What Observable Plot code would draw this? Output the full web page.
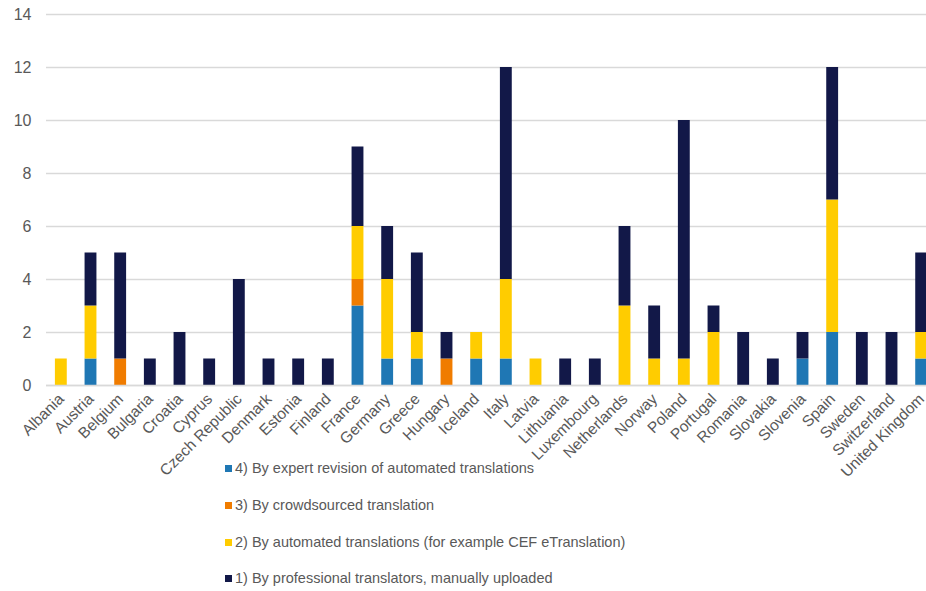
<!DOCTYPE html>
<html>
<head>
<meta charset="utf-8">
<script src="https://cdn.jsdelivr.net/npm/d3@7"></script>
<script src="https://cdn.jsdelivr.net/npm/@observablehq/plot@0.6"></script>
<style>
  html, body { margin: 0; padding: 0; background: white; }
  #wrap { position: relative; width: 926px; height: 591px; overflow: hidden; font-family: "Liberation Sans", Arial, sans-serif; }
  .leg { position: absolute; left: 225px; font-size: 14.5px; color: #595959; line-height: 18px; white-space: nowrap; }
  .leg span.sw { display: inline-block; width: 7px; height: 7px; margin-right: 3px; vertical-align: 1px; }
</style>
</head>
<body>
<div id="wrap"></div>
<script>
const countries = ["Albania","Austria","Belgium","Bulgaria","Croatia","Cyprus","Czech Republic","Denmark","Estonia","Finland","France","Germany","Greece","Hungary","Iceland","Italy","Latvia","Lithuania","Luxembourg","Netherlands","Norway","Poland","Portugal","Romania","Slovakia","Slovenia","Spain","Sweden","Switzerland","United Kingdom"];
const seriesNames = [
  "4) By expert revision of automated translations",
  "3) By crowdsourced translation",
  "2) By automated translations (for example CEF eTranslation)",
  "1) By professional translators, manually uploaded"
];
const seriesColors = ["#1F77B4", "#F07C00", "#FFCC00", "#121848"];
const expertRevision = [0,1,0,0,0,0,0,0,0,0,3,1,1,0,1,1,0,0,0,0,0,0,0,0,0,1,2,0,0,1];
const crowdsourced   = [0,0,1,0,0,0,0,0,0,0,1,0,0,1,0,0,0,0,0,0,0,0,0,0,0,0,0,0,0,0];
const automated      = [1,2,0,0,0,0,0,0,0,0,2,3,1,0,1,3,1,0,0,3,1,1,2,0,0,0,5,0,0,1];
const professional   = [0,2,4,1,2,1,4,1,1,1,3,2,3,1,0,8,0,1,1,3,2,9,1,2,1,1,5,2,2,3];
const yTicks = [0,2,4,6,8,10,12,14];

const seriesValues = [expertRevision, crowdsourced, automated, professional];
const data = [];
seriesNames.forEach((s, si) => {
  countries.forEach((c, ci) => {
    data.push({country: c, series: s, value: seriesValues[si][ci]});
  });
});

const chart = Plot.plot({
  width: 926,
  height: 591,
  marginLeft: 46,
  marginRight: 0,
  marginTop: 14,
  marginBottom: 206,
  style: {fontFamily: "'Liberation Sans', Arial, sans-serif", color: "#595959", background: "white", overflow: "visible"},
  x: {domain: countries, range: [46, 936], round: false, paddingInner: 0.6, paddingOuter: 0.3, label: null},
  y: {domain: [0, 14], label: null},
  color: {domain: seriesNames, range: seriesColors},
  marks: [
    Plot.gridY(yTicks, {stroke: "#d9d9d9", strokeOpacity: 1, strokeWidth: 1.3}),
    Plot.axisY(yTicks, {tickSize: 0, tickPadding: 15, fontSize: 16, label: null, fill: "#595959"}),
    Plot.axisX({tickSize: 0, tickRotate: -45, tickPadding: 11, fontSize: 15.5, label: null, fill: "#595959"}),
    Plot.barY(data.filter(d => d.value > 0), {x: "country", y: "value", fill: "series", order: seriesNames}),
    Plot.ruleY([0], {stroke: "#d9d9d9", strokeWidth: 1.3})
  ]
});

const wrap = document.getElementById("wrap");
wrap.appendChild(chart);

const legendTops = [459, 496, 533, 569];
seriesNames.forEach((s, i) => {
  const d = document.createElement("div");
  d.className = "leg";
  d.style.top = legendTops[i] + "px";
  const sw = document.createElement("span");
  sw.className = "sw";
  sw.style.background = seriesColors[i];
  d.appendChild(sw);
  d.appendChild(document.createTextNode(s));
  wrap.appendChild(d);
});
</script>
</body>
</html>
